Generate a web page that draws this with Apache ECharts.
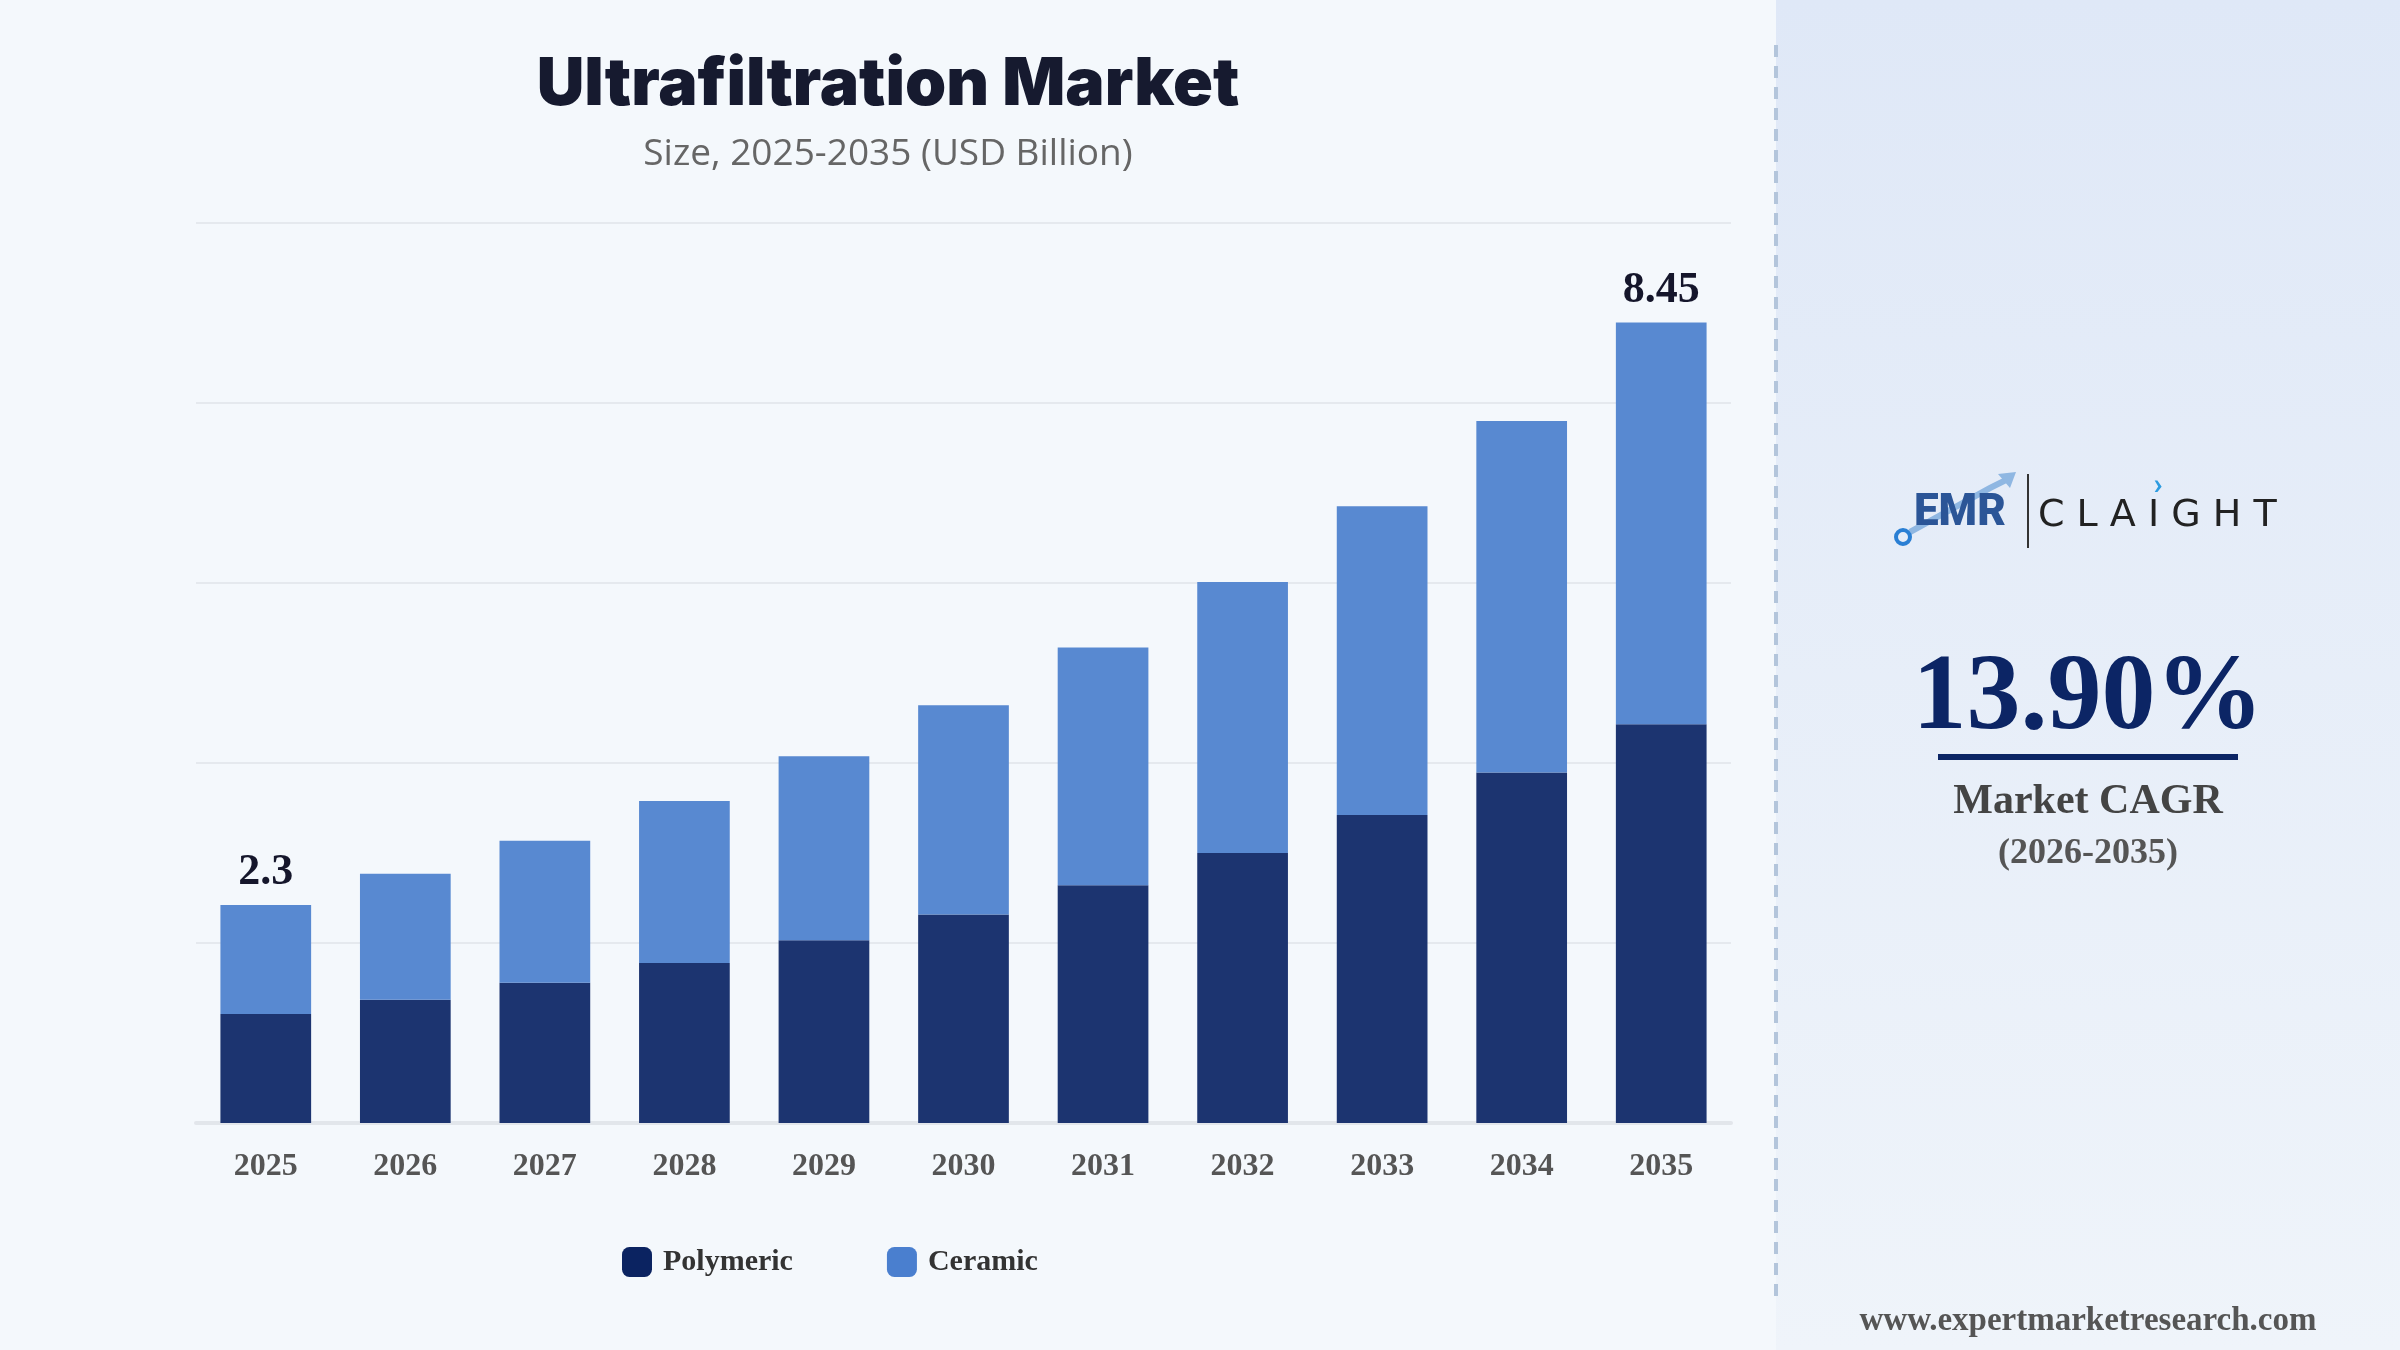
<!DOCTYPE html>
<html>
<head>
<meta charset="utf-8">
<script src="https://cdn.jsdelivr.net/npm/echarts@6/dist/echarts.min.js"></script>
<style>
html,body{margin:0;padding:0;background:#f4f8fc;}
#chart{width:2400px;height:1350px;}
</style>
</head>
<body>
<div id="chart"></div>
<script>
const years = ['2025','2026','2027','2028','2029','2030','2031','2032','2033','2034','2035'];
const polymeric = [1.15, 1.30, 1.48, 1.69, 1.93, 2.20, 2.51, 2.85, 3.25, 3.70, 4.21];
const ceramic   = [1.15, 1.33, 1.50, 1.71, 1.94, 2.21, 2.51, 2.86, 3.26, 3.71, 4.24];
const labelledIdx = [0, 10];
const cagrText = '13.90%';
const cagrPeriod = '(2026-2035)';

const chart = echarts.init(document.getElementById('chart'), null, {renderer:'canvas'});
const serif = '"Liberation Serif","Times New Roman",serif';

const option = {
  backgroundColor: '#f4f8fc',
  animation: false,
  grid: {left: 196, right: 669, top: 223, bottom: 227, containLabel: false},
  xAxis: {
    type: 'category',
    data: years,
    axisLine: {lineStyle: {color: '#e2e6eb', width: 4}},
    axisTick: {show: false},
    axisLabel: {color: '#555555', fontFamily: serif, fontWeight: 'bold', fontSize: 32, margin: 28}
  },
  yAxis: {
    type: 'value', min: 0, max: 9.5, interval: 1.9,
    axisLabel: {show: false}, axisLine: {show: false}, axisTick: {show: false},
    splitLine: {lineStyle: {color: '#e5e9ee', width: 2}}
  },
  legend: {
    left: 617, top: 1242,
    itemWidth: 30, itemHeight: 30, itemGap: 94,
    icon: 'roundRect',
    textStyle: {fontFamily: serif, fontWeight: 'bold', fontSize: 30, color: '#333333', padding: [0,0,0,6]},
    data: [
      {name: 'Polymeric', itemStyle: {color: '#0b2361'}},
      {name: 'Ceramic', itemStyle: {color: '#4a7fcf'}}
    ]
  },
  series: [
    {
      name: 'Polymeric', type: 'bar', stack: 'total', barWidth: '65%',
      data: polymeric,
      itemStyle: {color: '#1c3470'}
    },
    {
      name: 'Ceramic', type: 'bar', stack: 'total', barWidth: '65%',
      data: ceramic,
      itemStyle: {color: '#5889d1'},
      label: {
        show: true, position: 'top', distance: 10,
        fontFamily: serif, fontWeight: 'bold', fontSize: 44, color: '#15162b',
        formatter: function (p) {
          if (labelledIdx.indexOf(p.dataIndex) < 0) return '';
          const t = polymeric[p.dataIndex] + ceramic[p.dataIndex];
          return String(parseFloat(t.toFixed(2)));
        }
      }
    }
  ],
  graphic: [
    {type: 'rect', left: 1776, top: 0, z: -10, silent: true,
     shape: {width: 624, height: 1350},
     style: {fill: new echarts.graphic.LinearGradient(0,0,0,1,[{offset:0,color:'#dfe8f7'},{offset:1,color:'#eff4fa'}])}},
    {type: 'line', z: 5, silent: true,
     shape: {x1: 1776, y1: 45, x2: 1776, y2: 1300},
     style: {stroke: '#b3c5db', lineWidth: 4, lineDash: [12, 9]}},
    {type: 'text', x: 888, y: 85, z: 10,
     style: {text: 'Ultrafiltration Market', textAlign: 'center', textVerticalAlign: 'middle',
             fontFamily: 'Inter, Roboto, sans-serif', fontWeight: 900, fontSize: 66, fill: '#161a2f'}},
    {type: 'text', x: 888, y: 154, z: 10,
     style: {text: 'Size, 2025-2035 (USD Billion)', textAlign: 'center', textVerticalAlign: 'middle',
             fontFamily: '"Open Sans", "Noto Sans", sans-serif', fontSize: 37, fill: '#666666'}},
    // logo
    {type: 'circle', z: 10, shape: {cx: 1903, cy: 537, r: 7},
     style: {fill: 'none', stroke: '#2a7fd4', lineWidth: 4}},
    {type: 'polyline', z: 9, shape: {points: [[1910, 532], [1990, 488], [2010, 478]]},
     style: {stroke: '#8fb7e2', lineWidth: 6, fill: 'none'}},
    {type: 'polygon', z: 9, shape: {points: [[2016, 472], [1998, 474], [2010, 488]]},
     style: {fill: '#8fb7e2'}},
    {type: 'text', x: 1914, y: 514, z: 11,
     style: {text: 'EMR', textVerticalAlign: 'middle', fontFamily: 'Roboto, Inter, sans-serif', fontWeight: 900, fontSize: 44,
             fill: '#2b5597'}},
    {type: 'line', z: 10, shape: {x1: 2028, y1: 474, x2: 2028, y2: 548},
     style: {stroke: '#333333', lineWidth: 2}},
    {type: 'text', x: 2038, y: 516, z: 10,
     style: {text: 'C L A I G H T', textVerticalAlign: 'middle', fontFamily: '"DejaVu Sans", sans-serif', fontWeight: 'normal', fontSize: 38, fill: '#222222'}},
    {type: 'text', x: 2158, y: 486, z: 10,
     style: {text: '›', textAlign: 'center', textVerticalAlign: 'middle', fontFamily: 'Roboto, sans-serif', fontWeight: 'bold', fontSize: 30, fill: '#2c9be0'}},
    // CAGR
    {type: 'text', x: 2088, y: 700, z: 10,
     style: {text: cagrText, textAlign: 'center', textVerticalAlign: 'middle', fontFamily: serif, fontWeight: 'bold', fontSize: 108, fill: '#0c2565'}},
    {type: 'rect', z: 10, shape: {x: 1938, y: 754, width: 300, height: 6},
     style: {fill: '#0c2565'}},
    {type: 'text', x: 2088, y: 802, z: 10,
     style: {text: 'Market CAGR', textAlign: 'center', textVerticalAlign: 'middle', fontFamily: serif, fontWeight: 'bold', fontSize: 42, fill: '#444444'}},
    {type: 'text', x: 2088, y: 854, z: 10,
     style: {text: cagrPeriod, textAlign: 'center', textVerticalAlign: 'middle', fontFamily: serif, fontWeight: 'bold', fontSize: 36, fill: '#555555'}},
    {type: 'text', x: 2088, y: 1321, z: 10,
     style: {text: 'www.expertmarketresearch.com', textAlign: 'center', textVerticalAlign: 'middle', fontFamily: serif, fontWeight: 'bold', fontSize: 33, fill: '#555555'}}
  ]
};
chart.setOption(option);
</script>
</body>
</html>
